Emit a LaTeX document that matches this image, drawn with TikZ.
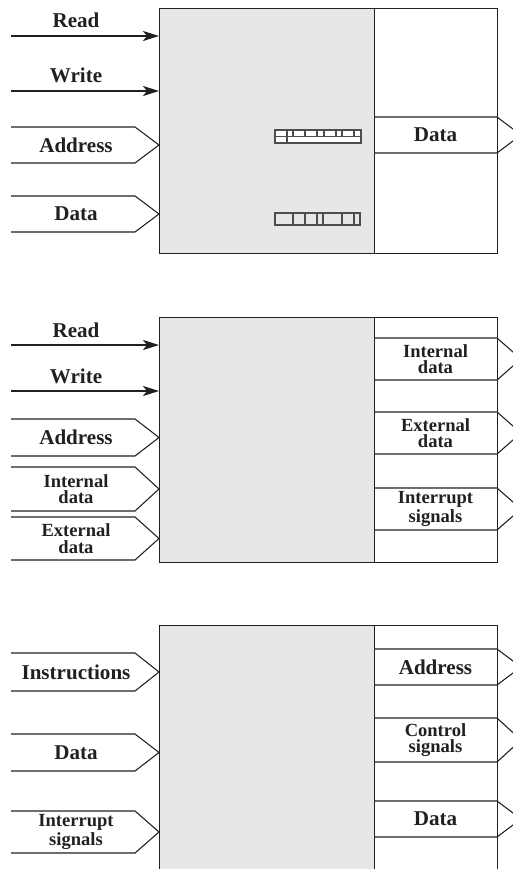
\documentclass[tikz,border=0pt]{standalone}
\usepackage{fontspec}
\setmainfont{Liberation Serif}
\usetikzlibrary{arrows.meta}

\definecolor{ink}{HTML}{231F20}
\definecolor{unitgray}{HTML}{E6E7E8}
\newcommand\pxu{0.75pt}

% bus into the unit: [style]{name}{top}{bottom}{text}
\newcommand\inbus[5][lbl]{%
  \draw[bus] (11,#3) -- (135,#3) -- (159,{(#3+#4)/2}) -- (135,#4) -- (11,#4);
  \node[#1] (#2) at (76,{(#3+#4)/2}) {#5};}
% bus out of the unit
\newcommand\outbus[5][lbl]{%
  \draw[bus] (374,#3) -- (497,#3) -- (521,{(#3+#4)/2}) -- (497,#4) -- (374,#4);
  \node[#1] (#2) at (435.5,{(#3+#4)/2}) {#5};}

\begin{document}
\begin{tikzpicture}[x=\pxu,y=-\pxu,
    unit/.style={draw=ink,line width=1.1pt,fill=unitgray,inner sep=0pt,anchor=north west},
    port/.style={draw=ink,line width=1.1pt,fill=white,inner sep=0pt,anchor=north west},
    bus/.style={draw=ink,line width=0.8pt},
    ctl/.style={draw=ink,line width=1.6pt,-{Stealth[length=12pt,width=7.5pt,inset=3pt]}},
    reg/.style={draw=ink!80,line width=0.8pt},
    lbl/.style={text=ink,font=\fontsize{15.8}{17}\selectfont\bfseries,inner sep=0pt},
    lbls/.style={text=ink,font=\fontsize{13.9}{12.5}\selectfont\bfseries,inner sep=0pt,align=center}]
  \useasboundingbox (0,0) rectangle (513,869);
  \clip (0,0) rectangle (513,869);

  % memory
  \node[port,minimum width=123*\pxu,minimum height=245*\pxu] (mio) at (374,8) {};
  \node[unit,minimum width=215*\pxu,minimum height=245*\pxu] (mem) at (159,8) {};
  \coordinate (mrd) at (11,36);
  \coordinate (mwr) at (11,91);
  \draw[ctl] (mrd) -- (mrd -| mem.west);
  \draw[ctl] (mwr) -- (mwr -| mem.west);
  \node[lbl] (mrdl) at (76,20) {Read};
  \node[lbl] (mwrl) at (76,75) {Write};
  \inbus{maddr}{127}{163}{Address}
  \inbus{mdin}{196}{232}{Data}
  \outbus{mdout}{117}{153}{Data}
  % words
  \draw[reg,fill=white] (275,130) rectangle (361,143);
  \draw[reg] (275,136.5) -- (361,136.5) (287,136.5) -- (287,143);
  \foreach \x in {287,293,305,317,324,336,342,354}
    \draw[reg] (\x,130) -- (\x,136.5);
  \draw[reg] (275,213) rectangle (360,225);
  \foreach \x in {293,305,317,323,342,354}
    \draw[reg] (\x,213) -- (\x,225);

  % I/O module
  \node[port,minimum width=123*\pxu,minimum height=245*\pxu] (iio) at (374,317) {};
  \node[unit,minimum width=215*\pxu,minimum height=245*\pxu] (iom) at (159,317) {};
  \coordinate (ird) at (11,345);
  \coordinate (iwr) at (11,391);
  \draw[ctl] (ird) -- (ird -| iom.west);
  \draw[ctl] (iwr) -- (iwr -| iom.west);
  \node[lbl] (irdl) at (76,330) {Read};
  \node[lbl] (iwrl) at (76,376) {Write};
  \inbus{iaddr}{419}{456}{Address}
  \inbus[lbls]{iint}{467}{511}{Internal\\data}
  \inbus[lbls]{iext}{517}{560}{External\\data}
  \outbus[lbls]{oint}{338}{380}{Internal\\data}
  \outbus[lbls]{oext}{412}{454}{External\\data}
  \outbus[lbls]{oirq}{488}{530}{Interrupt\\signals}

  % CPU
  \node[port,minimum width=123*\pxu,minimum height=260*\pxu] (cio) at (374,625) {};
  \node[unit,minimum width=215*\pxu,minimum height=260*\pxu] (cpu) at (159,625) {};
  \inbus{cins}{653}{691}{Instructions}
  \inbus{cdin}{734}{771}{Data}
  \inbus[lbls]{cirq}{811}{853}{Interrupt\\signals}
  \outbus{caddr}{649}{685}{Address}
  \outbus[lbls]{cctl}{718}{762}{Control\\signals}
  \outbus{cdout}{801}{837}{Data}
\end{tikzpicture}
\end{document}
